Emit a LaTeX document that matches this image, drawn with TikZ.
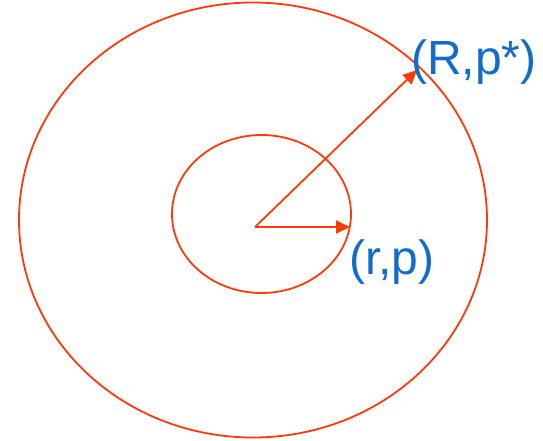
\documentclass[tikz,border=0pt]{standalone}
\usepackage{fontspec}
\setmainfont{Liberation Sans}
\usetikzlibrary{arrows.meta,shapes.geometric}
\definecolor{lred}{RGB}{255,58,10}
\definecolor{lblue}{RGB}{18,108,204}
\tikzset{
  ring/.style={draw=lred, line width=1.8pt, ellipse, inner sep=0pt},
  radius arrow/.style={draw=lred, line width=1.8pt, -{Triangle[length=14pt,width=13pt]}},
  lbl/.style={text=lblue, font=\fontsize{48}{52}\selectfont, inner sep=0pt, anchor=base west}
}
\begin{document}
\begin{tikzpicture}[x=1pt,y=-1pt]
  \useasboundingbox (0,0) rectangle (543,440);
  \node[ring, minimum width=468pt, minimum height=435pt] (outer) at (253,220) {};
  \node[ring, minimum width=179pt, minimum height=158pt] (inner) at (261.5,214) {};
  \coordinate (o) at (255,227);
  \coordinate (p) at (350,227);
  \coordinate (P) at (417,70);
  \draw[radius arrow] (o) -- (P);
  \draw[radius arrow] (o) -- (p);
  \node[lbl] (Rlab) at (411,74) {(R,p*)};
  \node[lbl] (rlab) at (349,274) {(r,p)};
\end{tikzpicture}
\end{document}
